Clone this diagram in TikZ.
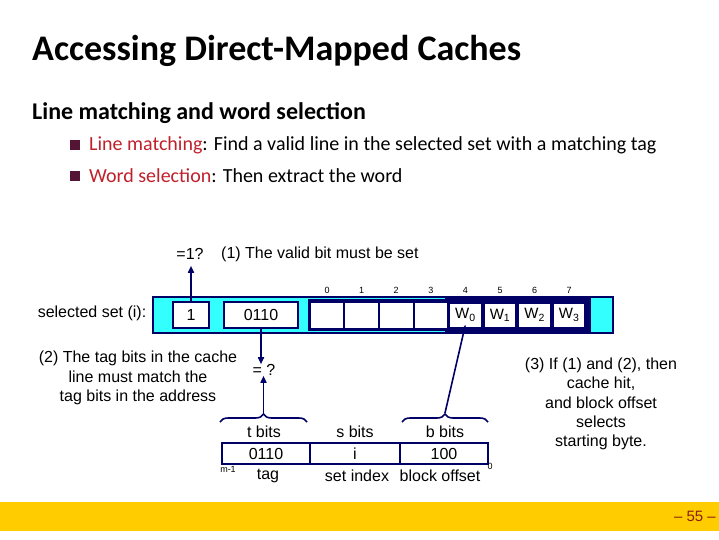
\documentclass[tikz,border=0pt]{standalone}
\usepackage{fontspec}
\setmainfont{Carlito}
\newfontfamily\arial{Liberation Sans}
\usetikzlibrary{arrows.meta,decorations.pathreplacing}
\definecolor{navy}{RGB}{0,0,102}
\definecolor{cyanband}{RGB}{51,255,255}
\definecolor{redtxt}{RGB}{192,32,42}
\definecolor{bulletc}{RGB}{84,20,52}
\definecolor{baryellow}{RGB}{255,204,0}
\definecolor{pagenum}{RGB}{140,30,20}
\tikzset{
  dtext/.style={font=\arial\fontsize{16}{19}\selectfont, inner sep=1pt},
  smalltext/.style={font=\arial\fontsize{9}{11}\selectfont, inner sep=0pt},
  cellbox/.style={draw=navy, fill=white, line width=2.8pt, font=\arial\fontsize{16}{19}\selectfont, inner sep=0pt},
  bytecell/.style={fill=white, minimum width=32.6, minimum height=25, inner sep=0pt, font=\arial\fontsize{16}{19}\selectfont},
  wcell/.style={fill=white, minimum width=30.5, minimum height=23, inner sep=0pt, font=\arial\fontsize{15}{18}\selectfont},
  addrcell/.style={draw=navy, line width=2pt, minimum height=21, inner sep=0pt, font=\arial\fontsize{16}{19}\selectfont},
  arr/.style={-{Triangle[length=7pt,width=6pt]}, navy, line width=1.6pt},
  bracestyle/.style={navy, line width=1.6pt, decorate, decoration={brace, amplitude=8pt}},
  bulletbox/.style={fill=bulletc, minimum size=10, inner sep=0pt},
  btext/.style={font=\fontsize{20}{24}\selectfont, anchor=west, inner sep=0pt}
}
\begin{document}
\begin{tikzpicture}[x=1pt,y=-1pt]
\useasboundingbox (0,0) rectangle (719,539);
% title
\node[anchor=west, inner sep=0pt, font=\fontsize{36}{40}\selectfont\bfseries] (title) at (32,51) {Accessing Direct-Mapped Caches};
\node[anchor=west, inner sep=0pt, font=\fontsize{24}{28}\selectfont\bfseries] (sub) at (32,113) {Line matching and word selection};
\node[bulletbox] (b1) at (75,145) {};
\node[btext] (t1) at (89,145) {\textcolor{redtxt}{Line matching}: Find a valid line in the selected set with a matching tag};
\node[bulletbox] (b2) at (75,176) {};
\node[btext] (t2) at (89,176) {\textcolor{redtxt}{Word selection}: Then extract the word};
% bottom bar
\fill[baryellow] (0,502) rectangle (719,531);
\node[anchor=east, inner sep=0pt, font=\arial\fontsize{15}{17}\selectfont, text=pagenum] (pg) at (716,516) {– 55 –};
% cache line band
\draw[navy, line width=2pt, fill=cyanband] (153,297) rectangle (613,333);
\node[cellbox, minimum width=36, minimum height=26] (valid) at (191,315) {1};
\node[cellbox, minimum width=74, minimum height=26] (tag) at (261,315) {0110};
\fill[navy] (308,299) rectangle (447,331);
\fill[navy] (445,298) rectangle (591,332);
\foreach \i/\x in {0/327,1/361.6,2/396.2,3/430.8}{
  \node[bytecell] (c\i) at (\x,315) {};
}
\node[wcell] (w0) at (465.4,315) {W\textsubscript{0}};
\node[wcell] (w1) at (500,315) {W\textsubscript{1}};
\node[wcell] (w2) at (534.6,315) {W\textsubscript{2}};
\node[wcell] (w3) at (569.2,315) {W\textsubscript{3}};
\foreach \i/\x in {0/327,1/361.6,2/396.2,3/430.8,4/465.4,5/500,6/534.6,7/569.2}{
  \node[smalltext] (bl\i) at (\x,290) {\i};
}
% labels
\node[dtext] (sel) at (92,313) {selected set (i):};
\node[dtext] (eq1) at (190,254) {=1?};
\node[dtext, anchor=west] (vbit) at (220,254) {(1) The valid bit must be set};
\draw[arr] (valid.north) -- ([yshift=-5pt]valid.north |- eq1.south);
\node[dtext] (eq2) at (264,370) {= ?};
\draw[arr] (tag.south) -- ([yshift=-1pt]tag.south |- eq2.north);
\node[dtext, align=center, font=\arial\fontsize{16}{19.5}\selectfont] (note2) at (138,378) {(2) The tag bits in the cache\\line must match the\\tag bits in the address};
\node[dtext, align=center, font=\arial\fontsize{16}{19.3}\selectfont] (note3) at (601,404) {(3) If (1) and (2), then\\cache hit,\\and block offset\\selects\\starting byte.};
% address
\node[addrcell, minimum width=88] (tf) at (266,453.5) {0110};
\node[addrcell, minimum width=90] (sf) at (355,453.5) {i};
\node[addrcell, minimum width=88] (bf) at (444,453.5) {100};
\node[dtext] (tb) at (264,432) {t bits};
\node[dtext] (sb) at (355,432) {s bits};
\node[dtext] (bb) at (445,432) {b bits};
\node[dtext] (tagl) at (268,476) {tag};
\node[dtext] (setl) at (357,476) {set index};
\node[dtext] (bol) at (440,476) {block offset};
\node[smalltext] (m1) at (228,469) {m-1};
\node[smalltext] (z0) at (490,466) {0};
\draw[bracestyle] (220,422) -- (307,422);
\draw[bracestyle] (402,422) -- (488,422);
\coordinate (ttip) at (263.5,413);
\coordinate (btip) at (445,413);
\draw[arr] (ttip) -- ([yshift=1pt]ttip |- eq2.south);
\draw[arr] (btip) -- ([yshift=2pt]w0.south);
\end{tikzpicture}
\end{document}
